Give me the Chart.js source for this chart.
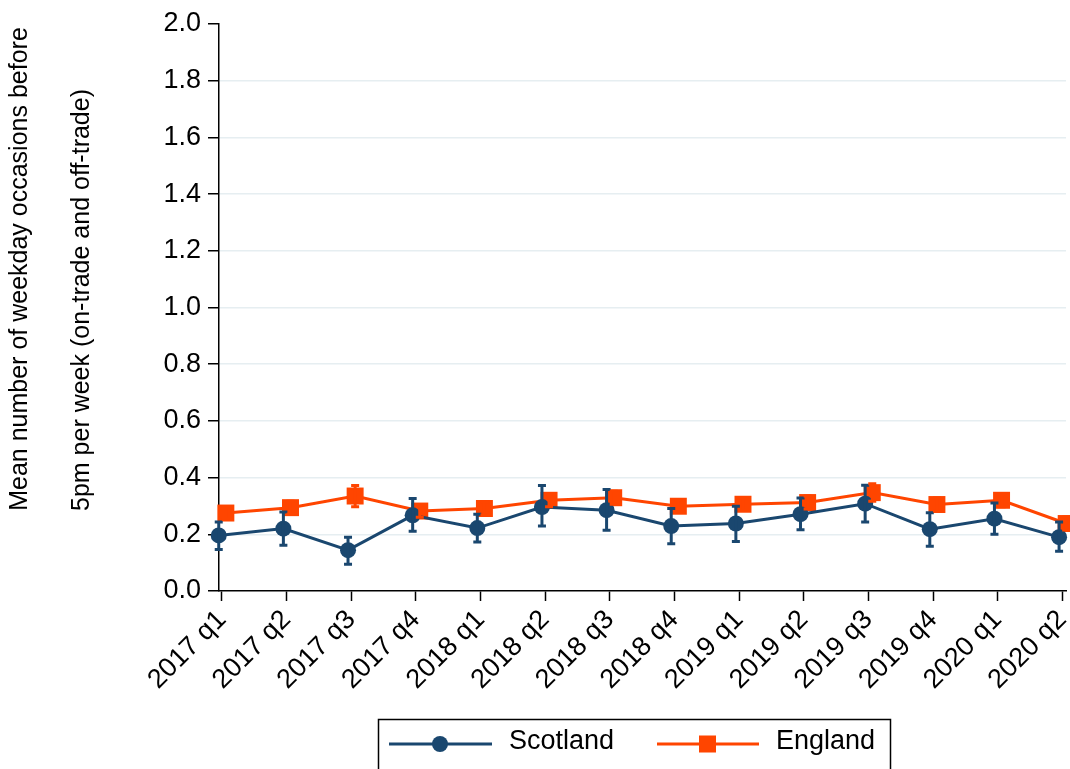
<!DOCTYPE html>
<html>
<head>
<meta charset="utf-8">
<script src="https://cdn.jsdelivr.net/npm/chart.js@4"></script>
<style>
  body { margin: 0; background: #fff; overflow: hidden; }
</style>
</head>
<body>
<canvas id="chart" width="1078" height="769"></canvas>
<script>
const quarters = ['2017 q1', '2017 q2', '2017 q3', '2017 q4', '2018 q1', '2018 q2', '2018 q3',
  '2018 q4', '2019 q1', '2019 q2', '2019 q3', '2019 q4', '2020 q1', '2020 q2']

const scotland = [0.196, 0.220, 0.144, 0.267, 0.222, 0.296, 0.285, 0.229, 0.238, 0.271, 0.308, 0.218, 0.255, 0.190]
const scotlandLo = [0.146, 0.161, 0.094, 0.211, 0.173, 0.229, 0.214, 0.167, 0.175, 0.216, 0.243, 0.158, 0.200, 0.140]
const scotlandHi = [0.243, 0.279, 0.190, 0.326, 0.271, 0.372, 0.358, 0.291, 0.299, 0.328, 0.373, 0.276, 0.310, 0.243]

const england = [0.275, 0.294, 0.335, 0.282, 0.291, 0.320, 0.329, 0.299, 0.306, 0.312, 0.347, 0.305, 0.320, 0.238]
const englandLo = [0.252, 0.271, 0.297, 0.260, 0.268, 0.297, 0.306, 0.277, 0.284, 0.289, 0.317, 0.282, 0.297, 0.215]
const englandHi = [0.298, 0.317, 0.372, 0.304, 0.314, 0.343, 0.352, 0.321, 0.328, 0.335, 0.378, 0.328, 0.343, 0.261]

const yTitle = ['Mean number of weekday occasions before', '5pm per week (on-trade and off-trade)']

const NAVY = '#1a476f'
const ORANGE = '#ff4500'
const FONT = '"Liberation Sans", Arial, sans-serif'

// small dodge so the two series don't sit on top of each other
const dodge = { scotland: -0.05, england: 0.06 }

function points(vals, off) {
  return vals.map((v, i) => ({ x: i + off, y: v }))
}

const errorBars = {
  id: 'errorBars',
  afterDatasetsDraw(chart) {
    const ctx = chart.ctx
    const xs = chart.scales.x, ys = chart.scales.y
    chart.data.datasets.forEach(ds => {
      ctx.save()
      ctx.strokeStyle = ds.borderColor
      ctx.lineWidth = 3
      ds.data.forEach((p, i) => {
        const x = xs.getPixelForValue(p.x)
        const y1 = ys.getPixelForValue(ds.lo[i])
        const y2 = ys.getPixelForValue(ds.hi[i])
        ctx.beginPath()
        ctx.moveTo(x, y1); ctx.lineTo(x, y2)
        ctx.moveTo(x - 4, y1); ctx.lineTo(x + 4, y1)
        ctx.moveTo(x - 4, y2); ctx.lineTo(x + 4, y2)
        ctx.stroke()
      })
      ctx.restore()
    })
  }
}

const extras = {
  id: 'extras',
  afterDraw(chart) {
    const ctx = chart.ctx
    ctx.save()
    ctx.fillStyle = '#000'
    ctx.font = '25px ' + FONT
    ctx.textAlign = 'center'
    ctx.textBaseline = 'middle'
    // y axis title, two lines
    ctx.save()
    ctx.translate(20, 269)
    ctx.rotate(-Math.PI / 2)
    ctx.fillText(yTitle[0], 0, 0)
    ctx.restore()
    ctx.save()
    ctx.translate(82, 300)
    ctx.rotate(-Math.PI / 2)
    ctx.fillText(yTitle[1], 0, 0)
    ctx.restore()

    // legend
    ctx.font = '27px ' + FONT
    ctx.strokeStyle = '#000'
    ctx.lineWidth = 1.5
    ctx.strokeRect(378.5, 719.5, 512, 60)
    const ly = 744
    ctx.lineWidth = 3
    ctx.strokeStyle = NAVY
    ctx.beginPath(); ctx.moveTo(389, ly); ctx.lineTo(492, ly); ctx.stroke()
    ctx.fillStyle = NAVY
    ctx.beginPath(); ctx.arc(440, ly, 8, 0, Math.PI * 2); ctx.fill()
    ctx.strokeStyle = ORANGE
    ctx.beginPath(); ctx.moveTo(657, ly); ctx.lineTo(759, ly); ctx.stroke()
    ctx.fillStyle = ORANGE
    ctx.fillRect(699, ly - 8.5, 17, 17)
    ctx.fillStyle = '#000'
    ctx.textAlign = 'left'
    ctx.fillText('Scotland', 509, ly - 2)
    ctx.fillText('England', 776, ly - 2)
    ctx.restore()
  }
}

new Chart(document.getElementById('chart').getContext('2d'), {
  type: 'line',
  data: {
    datasets: [
      {
        label: 'Scotland',
        data: points(scotland, dodge.scotland),
        lo: scotlandLo, hi: scotlandHi,
        borderColor: NAVY,
        backgroundColor: NAVY,
        borderWidth: 3,
        pointStyle: 'circle',
        pointRadius: 8,
        pointBorderWidth: 0,
        clip: false
      },
      {
        label: 'England',
        data: points(england, dodge.england),
        lo: englandLo, hi: englandHi,
        borderColor: ORANGE,
        backgroundColor: ORANGE,
        borderWidth: 3,
        pointStyle: 'rect',
        pointRadius: 12,
        pointBorderWidth: 0,
        clip: false
      }
    ]
  },
  options: {
    responsive: false,
    animation: false,
    devicePixelRatio: 1,
    layout: { padding: { top: 24, right: 4, left: 0, bottom: 0 } },
    plugins: { legend: { display: false }, tooltip: { enabled: false } },
    scales: {
      x: {
        type: 'linear',
        min: -0.046,
        max: 13.057,
        afterFit(scale) {
          scale.height = 178
          scale.paddingLeft = 0
          scale.paddingRight = 0
        },
        afterBuildTicks(scale) { scale.ticks = quarters.map((q, i) => ({ value: i })) },
        grid: { drawOnChartArea: false, tickLength: 10, tickColor: '#000', tickWidth: 1.5 },
        border: { color: '#000', width: 1.5 },
        ticks: {
          autoSkip: false,
          minRotation: 45,
          maxRotation: 45,
          padding: 3,
          color: '#000',
          font: { family: FONT, size: 27 },
          callback: v => quarters[v]
        }
      },
      y: {
        min: 0,
        max: 2,
        afterFit(scale) {
          scale.width = 219
          scale.paddingTop = 0
          scale.paddingBottom = 0
        },
        grid: {
          color: ctx => (ctx.tick.value === 0 || ctx.tick.value === 2) ? 'rgba(0,0,0,0)' : '#e6eef1',
          lineWidth: 1.5,
          tickLength: 11,
          tickColor: '#000',
          tickWidth: 1.5
        },
        border: { color: '#000', width: 1.5 },
        ticks: {
          stepSize: 0.2,
          padding: 7,
          color: '#000',
          font: { family: FONT, size: 27 },
          callback: v => v.toFixed(1)
        }
      }
    }
  },
  plugins: [errorBars, extras]
})
</script>
</body>
</html>
